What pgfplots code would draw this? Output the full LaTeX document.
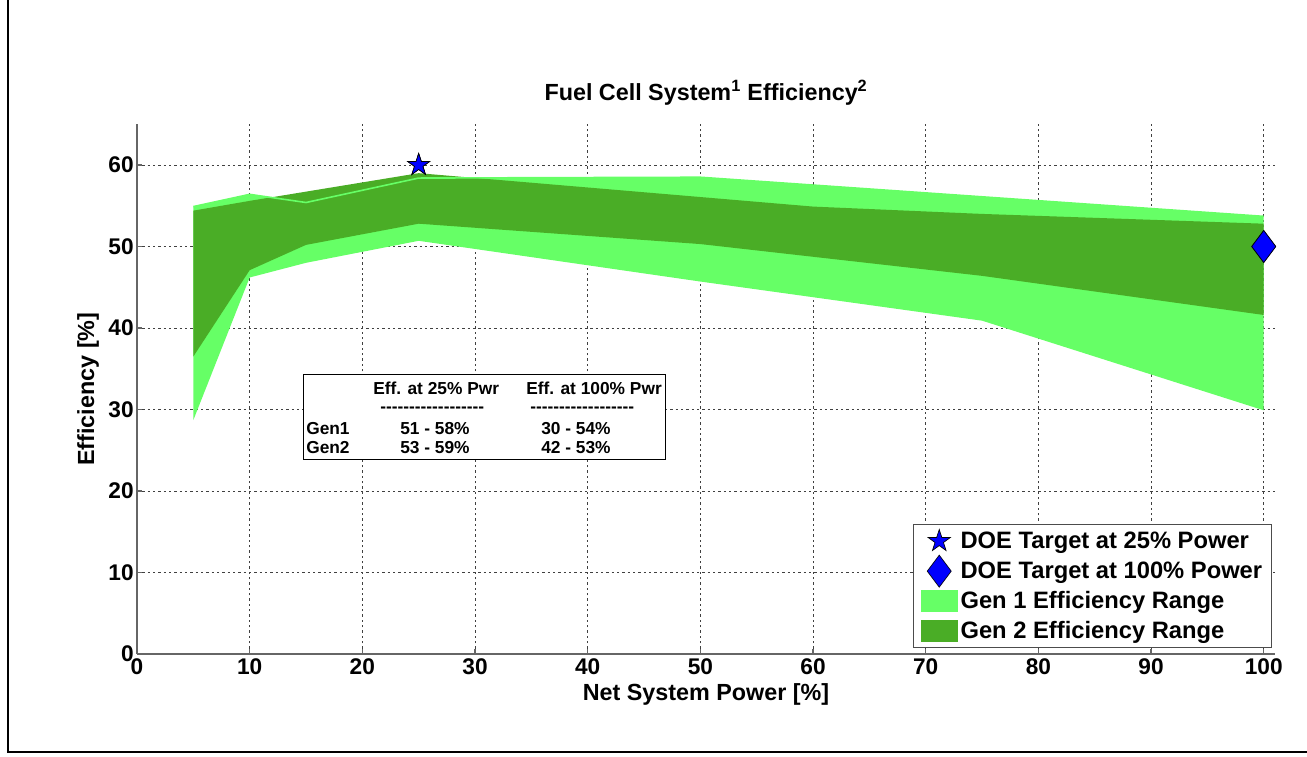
\documentclass[border=0pt]{standalone}
\usepackage{pgfplots}
\pgfplotsset{compat=1.18}
\usepackage{fontspec}
\setmainfont{Liberation Sans}

\definecolor{genone}{RGB}{102,255,102}
\definecolor{gentwo}{RGB}{74,173,38}
\definecolor{doeblue}{RGB}{0,0,255}

% filled five-pointed star (pentagram) marker
\pgfdeclareplotmark{fivestar}{%
  \pgfpathmoveto{\pgfpointpolar{90}{\pgfplotmarksize}}%
  \pgfpathlineto{\pgfpointpolar{126}{0.382\pgfplotmarksize}}%
  \pgfpathlineto{\pgfpointpolar{162}{\pgfplotmarksize}}%
  \pgfpathlineto{\pgfpointpolar{198}{0.382\pgfplotmarksize}}%
  \pgfpathlineto{\pgfpointpolar{234}{\pgfplotmarksize}}%
  \pgfpathlineto{\pgfpointpolar{270}{0.382\pgfplotmarksize}}%
  \pgfpathlineto{\pgfpointpolar{306}{\pgfplotmarksize}}%
  \pgfpathlineto{\pgfpointpolar{342}{0.382\pgfplotmarksize}}%
  \pgfpathlineto{\pgfpointpolar{18}{\pgfplotmarksize}}%
  \pgfpathlineto{\pgfpointpolar{54}{0.382\pgfplotmarksize}}%
  \pgfpathclose
  \pgfusepathqfillstroke}

% legend images: one marker, or a filled swatch, in a fixed-size cell
\pgfplotsset{
  markleg/.style={legend image code/.code={%
    \path[draw=none,fill=none] (0pt,-11.25pt) rectangle (28pt,11.25pt);
    \draw[##1,overlay] plot coordinates {(14pt,0pt)};}},
  boxleg/.style={legend image code/.code={%
    \path[draw=none,fill=none] (0pt,-11.25pt) rectangle (28pt,11.25pt);
    \fill[#1] (0pt,-8.5pt) rectangle (28pt,8.5pt);}},
}

\newcommand\hy{\mbox{-}}
\newcommand\dashrow{\hy\hy\hy\hy\hy\hy\hy\hy\hy\hy\hy\hy\hy\hy\hy\hy\hy\hy}

\begin{document}
\begin{tikzpicture}
\useasboundingbox (0,0) rectangle (980.25pt,567.75pt);
\draw[line width=1.1pt] (6pt,567.75pt) -- (6pt,3.75pt) -- (980.25pt,3.75pt);

\begin{axis}[
  at={(102.75pt,77.25pt)}, anchor=south west,
  scale only axis, width=853.5pt, height=397.3pt,
  xmin=0, xmax=101, ymin=0, ymax=65,
  xtick={0,10,...,100}, ytick={0,10,...,60},
  axis x line*=bottom, axis y line*=left,
  axis line style={black!60, line width=0.9pt, -},
  every outer x axis line/.append style={-},
  every outer y axis line/.append style={-},
  tick style={black!60, line width=0.9pt},
  tick align=inside, major tick length=3.75pt,
  grid=major,
  grid style={black!75, line width=0.6pt, dash pattern=on 1.8pt off 2.2pt},
  /pgf/number format/assume math mode=true,
  tick label style={font=\bfseries\fontsize{17}{19}\selectfont},
  yticklabel style={xshift=1pt},
  xlabel={Net System Power [\%]},
  xlabel style={font=\bfseries\fontsize{17.5}{20}\selectfont,
    at={(axis description cs:0.5,-0.0755)}, anchor=center},
  ylabel={Efficiency [\%]},
  ylabel style={font=\bfseries\fontsize{17.5}{20}\selectfont,
    at={(axis description cs:-0.043,0.5)}, anchor=center},
  title={Fuel Cell System\textsuperscript{1} Efficiency\textsuperscript{2}},
  title style={font=\bfseries\fontsize{17.5}{20}\selectfont,
    at={(axis description cs:0.5,1.0307)}, anchor=base},
  legend cell align=left,
  legend style={at={(axis description cs:0.9974,0.0113)}, anchor=south east,
    draw=black!70, line width=0.8pt,
    font=\bfseries\fontsize{17.8}{20}\selectfont,
    inner xsep=5pt, inner ysep=1pt, row sep=0pt,
    nodes={inner sep=2pt}},
]

% DOE targets (legend entries)
\addplot[only marks, mark=fivestar, mark size=8.7pt, draw=black, fill=doeblue,
  line width=0.5pt, markleg]
  coordinates {(25,60)};
\addlegendentry{DOE Target at 25\% Power}
\addplot[only marks, mark=diamond*, mark size=12pt, draw=black, fill=doeblue,
  line width=0.5pt, markleg]
  coordinates {(100,50)};
\addlegendentry{DOE Target at 100\% Power}

% Gen 1 efficiency range
\addplot[fill=genone, draw=none, boxleg=genone]
  coordinates {(5,54.9) (10,56.4) (15,55.4) (25,58.4) (50,58.5) (75,56.1) (100,53.7)
               (100,29.9) (75,40.9) (50,45.7) (25,50.7) (15,48.0) (10,46.2) (5,28.7)} -- cycle;
\addlegendentry{Gen 1 Efficiency Range}

% Gen 2 efficiency range
\addplot[fill=gentwo, draw=none, boxleg=gentwo]
  coordinates {(5,54.4) (10,55.6) (25,59.0) (60,54.9) (75,54.0) (100,52.8)
               (100,41.6) (75,46.4) (50,50.3) (25,52.8) (15,50.2) (10,47.1) (5,36.5)} -- cycle;
\addlegendentry{Gen 2 Efficiency Range}

% Gen 1 upper edge drawn over the Gen 2 band
\addplot[genone, line width=1.2pt, forget plot]
  coordinates {(5,54.9) (10,56.4) (15,55.4) (25,58.4) (50,58.5) (75,56.1) (100,53.7)};

% targets on top of the bands
\addplot[only marks, mark=fivestar, mark size=8.7pt, draw=black, fill=doeblue,
  line width=0.5pt, forget plot] coordinates {(25,60)};
\addplot[only marks, mark=diamond*, mark size=12pt, draw=black, fill=doeblue,
  line width=0.5pt, forget plot] coordinates {(100,50)};
\end{axis}

% summary text box
\draw[fill=white, draw=black, line width=0.75pt]
  (227.25pt,222.75pt) rectangle (498.75pt,286.5pt);
\begin{scope}[every node/.style={anchor=base west, inner sep=0pt,
    font=\bfseries\fontsize{13}{16}\selectfont}]
  \node at (279.75pt,271.5pt) {Eff. at 25\% Pwr};
  \node at (394.5pt,271.5pt) {Eff. at 100\% Pwr};
  \node at (285pt,258pt) {\dashrow};
  \node at (397.5pt,258pt) {\dashrow};
  \node at (229.5pt,242pt) {Gen1};
  \node at (300pt,242pt) {51 - 58\%};
  \node at (405.75pt,242pt) {30 - 54\%};
  \node at (229.5pt,227.5pt) {Gen2};
  \node at (300pt,227.5pt) {53 - 59\%};
  \node at (405.75pt,227.5pt) {42 - 53\%};
\end{scope}
\end{tikzpicture}
\end{document}
